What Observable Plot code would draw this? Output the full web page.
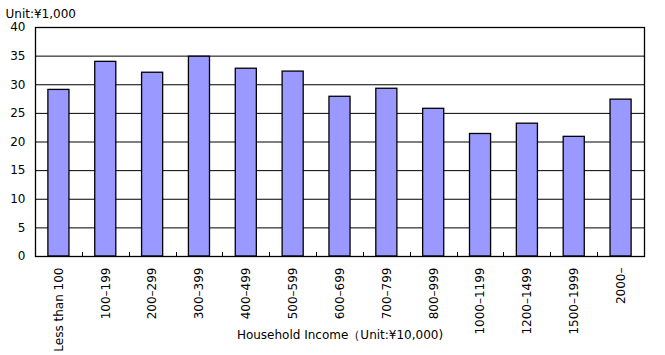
<!DOCTYPE html>
<html>
<head>
<meta charset="utf-8">
<script src="https://cdn.jsdelivr.net/npm/d3@7"></script>
<script src="https://cdn.jsdelivr.net/npm/@observablehq/plot@0.6"></script>
<style>
  html, body { margin: 0; padding: 0; background: #fff; overflow: hidden; }
  #chart { width: 665px; height: 355px; overflow: hidden; }
  svg { display: block; max-width: none !important; }
</style>
</head>
<body>
<div id="chart"></div>
<script>
const categories = ["Less than 100", "100\u2013199", "200\u2013299", "300\u2013399", "400\u2013499", "500\u2013599", "600\u2013699", "700\u2013799", "800\u2013999", "1000\u20131199", "1200\u20131499", "1500\u20131999", "2000\u2013"];
const values = [29.1, 34.0, 32.1, 34.9, 32.8, 32.3, 27.9, 29.3, 25.8, 21.4, 23.2, 20.9, 27.4];
const yTicks = [0, 5, 10, 15, 20, 25, 30, 35, 40];
const unitLabel = "Unit:\u00a51,000";
const xTitle = "Household Income\uff08Unit:\u00a510,000)";

const data = categories.map((c, i) => ({category: c, value: values[i]}));

// inward tick marks at the boundaries between category bands
const boundaryTicks = (index, scales, values, dimensions) => {
  const x = scales.x;
  const bw = x.bandwidth ? x.bandwidth() : 0;
  const step = x.step ? x.step() : bw;
  const y0 = dimensions.height - dimensions.marginBottom;
  const g = d3.create("svg:g").attr("stroke", "#000").attr("stroke-width", 1);
  categories.slice(1).forEach(c => {
    const px = Math.round(x(c) - (step - bw) / 2) + 0.5;
    g.append("line").attr("x1", px).attr("x2", px).attr("y1", y0).attr("y2", y0 - 4);
  });
  return g.node();
};

const chart = Plot.plot({
  width: 665,
  height: 355,
  marginLeft: 35,
  marginRight: 21,
  marginTop: 27,
  marginBottom: 99,
  style: {fontFamily: "DejaVu Sans, sans-serif", fontSize: "12px", color: "#000", background: "#fff"},
  x: {domain: categories, paddingInner: 0.55, paddingOuter: 0.275, align: 0.5, round: false},
  y: {domain: [0, 40]},
  marks: [
    Plot.ruleY(yTicks, {stroke: "#000", strokeWidth: 1}),
    Plot.barY(data, {x: "category", y: "value", fill: "#9999FF", stroke: "#000", strokeWidth: 1.3}),
    Plot.frame({stroke: "#000", strokeWidth: 1.3}),
    boundaryTicks,
    Plot.axisY({ticks: yTicks, tickSize: 0, tickPadding: 10, label: null, fill: "#000"}),
    Plot.axisX({tickSize: 0, tickPadding: 11, tickRotate: -90, label: null, fill: "#000"}),
    Plot.text([unitLabel], {frameAnchor: "top-left", dx: -30, dy: -18, textAnchor: "start", fill: "#000"}),
    Plot.text([xTitle], {frameAnchor: "bottom", dy: 82, fill: "#000"})
  ]
});
document.getElementById("chart").append(chart);
</script>
</body>
</html>
